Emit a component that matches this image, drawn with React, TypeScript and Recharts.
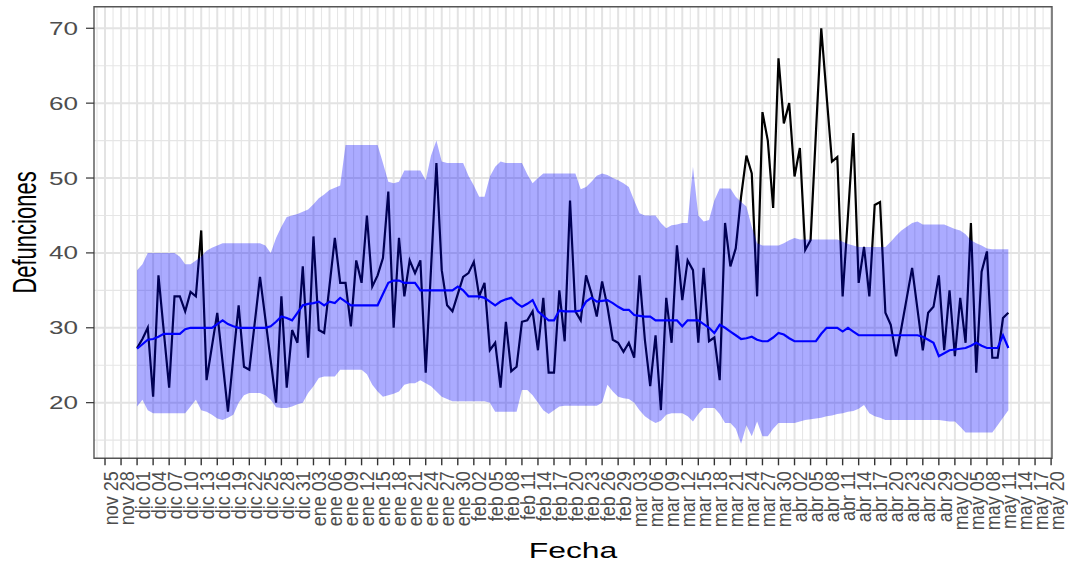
import React from 'react';
import { ComposedChart, Line, Area, XAxis, YAxis, CartesianGrid, ReferenceArea } from 'recharts';

const FONT = '"Liberation Sans", Arial, Helvetica, sans-serif';

// day index counted from nov 25 (tick 0); first observation = dic 01
const PRIMER_DIA = 6;

const etiquetasX = [
  'nov 25', 'nov 28',
  'dic 01', 'dic 04', 'dic 07', 'dic 10', 'dic 13', 'dic 16', 'dic 19', 'dic 22', 'dic 25', 'dic 28', 'dic 31',
  'ene 03', 'ene 06', 'ene 09', 'ene 12', 'ene 15', 'ene 18', 'ene 21', 'ene 24', 'ene 27', 'ene 30',
  'feb 02', 'feb 05', 'feb 08', 'feb 11', 'feb 14', 'feb 17', 'feb 20', 'feb 23', 'feb 26', 'feb 29',
  'mar 03', 'mar 06', 'mar 09', 'mar 12', 'mar 15', 'mar 18', 'mar 21', 'mar 24', 'mar 27', 'mar 30',
  'abr 02', 'abr 05', 'abr 08', 'abr 11', 'abr 14', 'abr 17', 'abr 20', 'abr 23', 'abr 26', 'abr 29',
  'may 02', 'may 05', 'may 08', 'may 11', 'may 14', 'may 17', 'may 20',
];

const ticksY = [20, 30, 40, 50, 60, 70];
const gridYMenor = [15, 25, 35, 45, 55, 65];

const defunciones = [
  27.3, 28.5, 30, 20.8, 37, 29.5, 22, 34.2, 34.2, 32.2,
  34.8, 34.2, 43, 23, 27.5, 32, 25.4, 18.8, 26, 33,
  24.8, 24.4, 30.6, 36.8, 31.2, 25.6, 20, 34.2, 22, 29.7,
  28, 38.2, 26, 42.2, 29.7, 29.3, 35.6, 42, 36, 36,
  30.2, 39, 36, 45, 35.5, 37, 39.3, 48.2, 30, 42,
  34.2, 39, 37.3, 39, 24, 38, 52, 37.7, 33, 32.2,
  34.5, 36.8, 37.3, 38.8, 34.2, 36, 27, 28, 22, 30.8,
  24.2, 24.8, 30.8, 31, 32.2, 27, 34, 24, 24, 35,
  28.2, 47, 32.2, 31, 37, 34.6, 31.5, 36.2, 32.8, 28.4,
  28, 26.8, 28, 26, 37, 28.4, 22.2, 29, 19, 34,
  28, 41, 33.7, 39, 37.7, 28, 38, 28.2, 28.7, 23,
  44, 38.2, 40.6, 47.5, 53, 50.6, 34.2, 58.8, 55, 46,
  66, 57.3, 60, 50.2, 54, 40.4, 41.7, 56, 70, 61,
  52.2, 52.8, 34.2, 45, 56, 36, 40.8, 34.2, 46.4, 46.8,
  32, 30.4, 26.2, 30, 34, 38, 32.5, 27, 32, 32.8,
  37, 27, 35, 26.2, 34, 28, 44, 24, 37.5, 40.2,
  26, 26, 31.3, 32,
];

const esperadas = [
  27.2, 27.8, 28.4, 28.5, 28.8, 29.2, 29.2, 29.2, 29.2, 29.8,
  30, 30, 30, 30, 30, 30.5, 31, 30.5, 30.2, 30,
  30, 30, 30, 30, 30, 30.2, 30.8, 31.5, 31.3, 31,
  32, 33, 33.2, 33.3, 33.5, 33, 33.5, 33.3, 34, 33.5,
  33, 33, 33, 33, 33, 33, 34.5, 36, 36.3, 36.3,
  36, 36, 36, 35, 35, 35, 35, 35, 35, 35,
  35.5, 35, 34.2, 34.2, 34.2, 34, 33.5, 33, 33.5, 33.8,
  34, 33.3, 32.8, 33.2, 33.7, 32.2, 31.6, 31, 31, 32.3,
  32.2, 32.2, 32.2, 32.3, 33.5, 34, 33.5, 33.6, 33.7, 33.3,
  32.8, 32.4, 32.4, 31.7, 31.6, 31.5, 31.5, 31, 31, 31,
  31, 31, 30.2, 31, 31, 31, 30.5, 30, 29.3, 30.4,
  30, 29.5, 29, 28.5, 28.6, 28.8, 28.4, 28.2, 28.2, 28.7,
  29.3, 29.1, 28.6, 28.2, 28.2, 28.2, 28.2, 28.2, 29.2, 30,
  30, 30, 29.5, 30, 29.5, 29, 29, 29, 29, 29,
  29, 29, 29, 29, 29, 29, 29, 28.8, 28.4, 28,
  26.2, 26.6, 27, 27.1, 27.2, 27.3, 27.6, 28, 27.6, 27.3,
  27.3, 27.3, 29, 27.3,
];

const limiteSup = [
  37.7, 38.5, 40, 40, 40, 40, 40, 40, 39.5, 38.5,
  38.5, 39, 39.5, 40.3, 40.7, 41, 41.3, 41.3, 41.3, 41.3,
  41.3, 41.3, 41.3, 41.3, 41, 40, 42, 43.5, 44.8, 45,
  45.2, 45.5, 45.8, 46.5, 47.3, 47.8, 48.4, 48.7, 49, 54.4,
  54.4, 54.4, 54.4, 54.4, 54.4, 54.4, 52, 49.5, 49.3, 49.5,
  51, 51, 51, 51, 49.7, 53, 55, 52.2, 52, 52,
  52, 52, 50.3, 49, 47.5, 47.5, 50.2, 51.5, 52.2, 52,
  52, 52, 52, 50.5, 49.3, 50, 50.6, 50.6, 50.6, 50.6,
  50.6, 50.6, 50.6, 48.5, 48.8, 49.5, 50.3, 50.6, 50.4, 50,
  49.7, 49.3, 48.8, 47, 45.3, 45, 45, 45, 44, 43.3,
  43.7, 43.8, 44, 44, 51.5, 45, 44.2, 44.4, 47, 48.6,
  48.6, 48.6, 47.5, 46.8, 46.2, 43.5, 41.3, 41, 41, 41,
  41, 41.3, 41.7, 42, 41.8, 41.8, 41.8, 41.8, 41.8, 41.8,
  41.8, 41.8, 41.5, 41.2, 41, 40.8, 40.8, 40.8, 40.8, 40.8,
  40.8, 41.5, 42.3, 43, 43.5, 44, 44.2, 43.8, 43.8, 43.8,
  43.8, 43.8, 43.5, 43.2, 43, 42.5, 41.7, 41.3, 41, 40.6,
  40.5, 40.5, 40.5, 40.5,
];

const limiteInf = [
  19.5, 20.4, 19, 18.6, 18.6, 18.6, 18.6, 18.6, 18.6, 18.6,
  19.5, 20.4, 19, 18.8, 18.4, 17.9, 17.7, 18, 18.4, 20,
  21, 21.3, 21.3, 21.3, 21, 20.4, 19.4, 19.3, 19.3, 19.5,
  19.8, 20, 21.3, 22.2, 23.3, 23.5, 23.5, 23.5, 24.4, 24.4,
  24.4, 24.4, 24.4, 23.8, 22.4, 21.5, 20.8, 21, 21.2, 21.5,
  22.4, 22.6, 22.6, 23, 22.6, 22.2, 21.5, 20.8, 20.5, 20.2,
  20.2, 20.2, 20.2, 20.2, 20.2, 20.2, 20, 18.8, 18.8, 18.8,
  18.8, 18.8, 21.7, 21.7, 21, 20, 19, 18.5, 19, 19.5,
  19.6, 19.6, 19.6, 19.6, 19.6, 19.6, 19.6, 20, 22.4, 21.5,
  20.8, 20.6, 20.5, 20, 19, 18.2, 17.7, 17.3, 17.6, 18.4,
  18.6, 18.6, 18.6, 18.2, 17.5, 18.5, 19.3, 19.3, 19.3, 18.5,
  17.3, 17.3, 16.5, 14.5, 17, 15.5, 17.5, 15.5, 15.5, 16.5,
  17.3, 17.3, 17.3, 17.3, 17.5, 17.7, 17.8, 17.9, 18, 18.2,
  18.3, 18.5, 18.6, 18.8, 18.9, 19.2, 19.7, 18.6, 18.2, 18,
  17.7, 17.7, 17.7, 17.7, 17.7, 17.7, 17.7, 17.7, 17.7, 17.7,
  17.7, 17.6, 17.5, 17.5, 16.8, 16, 16, 16, 16, 16,
  16, 17, 18, 19,
];

const X_DOM: [number, number] = [-2.06, 177.17];
const Y_DOM: [number, number] = [12.57, 72.88];

const ticksX = etiquetasX.map((_, i) => i * 3);
const gridXMenor = ticksX.map((t) => t - 1.5);

const datos = defunciones.map((v, i) => ({
  dia: PRIMER_DIA + i,
  obs: v,
  esp: esperadas[i],
  banda: [limiteInf[i], limiteSup[i]],
}));

const XTick = (props: any) => {
  const { x, y, payload } = props;
  const label = etiquetasX[Math.round(payload.value / 3)];
  return (
    <text
      transform={`translate(${x},${y}) scale(1.15,1) rotate(-90)`}
      x={0}
      y={11}
      textAnchor="end"
      fontSize={18}
      fill="#4d4d4d"
      fontFamily={FONT}
    >
      {label}
    </text>
  );
};

const YTick = (props: any) => {
  const { x, y, payload } = props;
  return (
    <text
      transform={`translate(${x},${y}) scale(1.45,1)`}
      x={0}
      y={0}
      dy="0.36em"
      textAnchor="end"
      fontSize={18}
      fill="#4d4d4d"
      fontFamily={FONT}
    >
      {payload.value}
    </text>
  );
};

const XTitle = (props: any) => {
  const vb = props.viewBox || { x: 94, y: 458, width: 958, height: 107 };
  return (
    <text
      transform={`translate(${vb.x + vb.width / 2},${vb.y + 100}) scale(1.45,1)`}
      textAnchor="middle"
      fontSize={22}
      fill="#000"
      fontFamily={FONT}
    >
      Fecha
    </text>
  );
};

const YTitle = (props: any) => {
  const vb = props.viewBox || { x: 0, y: 6.7, width: 94, height: 451.6 };
  return (
    <text
      transform={`translate(${vb.x + 36},${vb.y + vb.height / 2}) scale(1.5,1) rotate(-90)`}
      textAnchor="middle"
      fontSize={22}
      fill="#000"
      fontFamily={FONT}
    >
      Defunciones
    </text>
  );
};

export default function App() {
  return (
    <div style={{ position: 'absolute', left: 0, top: 0, background: '#fff' }}>
      <ComposedChart
        width={1068}
        height={565}
        data={datos}
        margin={{ top: 6.7, right: 16, bottom: 0, left: 0 }}
      >
        <CartesianGrid
          stroke="#e6e6e6"
          strokeWidth={1.1}
          verticalValues={gridXMenor}
          horizontalValues={gridYMenor}
        />
        <CartesianGrid
          stroke="#e3e3e3"
          strokeWidth={2}
          verticalValues={ticksX}
          horizontalValues={ticksY}
        />
        <XAxis
          type="number"
          dataKey="dia"
          domain={X_DOM}
          allowDataOverflow
          ticks={ticksX}
          interval={0}
          height={106.7}
          axisLine={false}
          tickSize={7}
          tickMargin={6}
          tickLine={{ stroke: '#333', strokeWidth: 1.4 }}
          tick={<XTick />}
          label={<XTitle />}
        />
        <YAxis
          type="number"
          domain={Y_DOM}
          allowDataOverflow
          ticks={ticksY}
          interval={0}
          width={94}
          axisLine={false}
          tickSize={8}
          tickMargin={8}
          tickLine={{ stroke: '#333', strokeWidth: 1.2 }}
          tick={<YTick />}
          label={<YTitle />}
        />
        <Area
          type="linear"
          dataKey="obs"
          fill="none"
          stroke="#000"
          strokeWidth={2.2}
          dot={false}
          activeDot={false}
          isAnimationActive={false}
        />
        <Area
          type="linear"
          dataKey="banda"
          fill="#0000ff"
          fillOpacity={0.33}
          stroke="none"
          isAnimationActive={false}
        />
        <Line
          type="linear"
          dataKey="esp"
          stroke="#0000ff"
          strokeWidth={2.2}
          dot={false}
          isAnimationActive={false}
        />
        <ReferenceArea
          x1={X_DOM[0]}
          x2={X_DOM[1]}
          y1={Y_DOM[0]}
          y2={Y_DOM[1]}
          fill="none"
          stroke="#555"
          strokeWidth={1.4}
          ifOverflow="visible"
        />
      </ComposedChart>
    </div>
  );
}
